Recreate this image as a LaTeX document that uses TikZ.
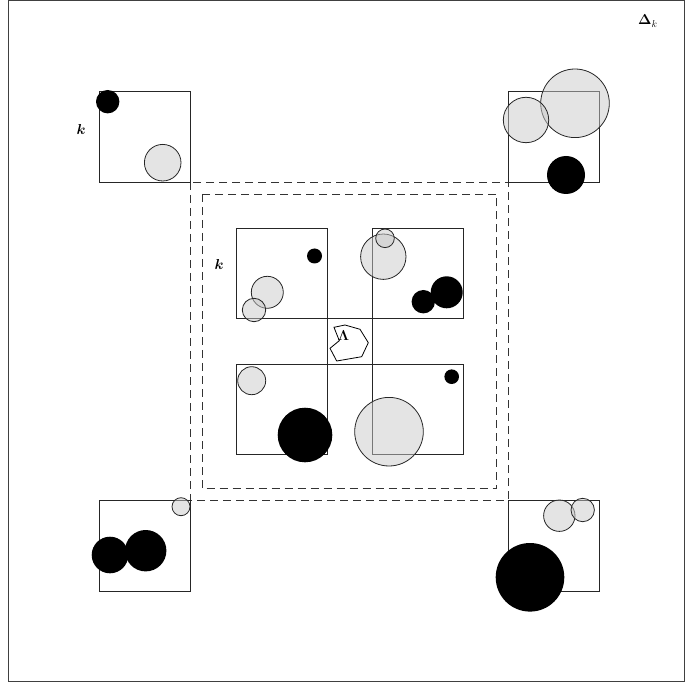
\documentclass[tikz,border=0pt]{standalone}
\usepackage{amsmath,amssymb,bm}
\begin{document}
\begin{tikzpicture}[x=1pt,y=-1pt,
  sq/.style={draw=black!85,line width=0.9pt},
  dsh/.style={draw=black!80,line width=0.9pt,dash pattern=on 8pt off 5pt},
  gc/.style={fill=black!21,fill opacity=0.5,draw=black!85,line width=0.8pt},
  bc/.style={fill=black},
  lbl/.style={inner sep=0pt,font=\fontsize{14}{16}\selectfont}]
\useasboundingbox (0,0) rectangle (685,684);
\draw[draw=black!75,line width=1.2pt] (8.5,0.8) rectangle (684.5,681.5);
% dashed
\draw[dsh] (190,182) rectangle (508,500);
\draw[dsh] (202,194) rectangle (496.5,488.5);
% corner squares
\draw[sq] (99,91.5) rectangle (190,182);
\draw[sq] (508,91.5) rectangle (599,182);
\draw[sq] (99,500) rectangle (190,591);
\draw[sq] (508,500) rectangle (599,591);
% inner squares
\draw[sq] (236,228) rectangle (327,318);
\draw[sq] (372,228) rectangle (463,318);
\draw[sq] (236,364) rectangle (327,454);
\draw[sq] (372,364) rectangle (463,454);
\draw[sq] (327,318) rectangle (372,364);
% polygon
\draw[fill=white,line width=0.8pt] (334,327.3) -- (345,325) -- (360,329.3) -- (368.3,342.7) -- (361.7,356.7) -- (336.7,361) -- (330,348.3) -- (339.3,340.7) -- cycle;
% TL circles
\fill[bc] (107.7,101.7) circle (11.7);
\draw[gc] (162.7,162.7) circle (18.3);
% TR
\draw[gc] (575,103.3) circle (34.3);
\draw[gc] (526,120) circle (22.7);
\fill[bc] (566,175) circle (19);
% BL
\draw[gc] (181,506.7) circle (9);
\fill[bc] (110,555) circle (18.3);
\fill[bc] (145.7,550.7) circle (20.7);
% BR
\draw[gc] (559.3,515.7) circle (15.7);
\draw[gc] (582.7,510) circle (11.7);
\fill[bc] (530,577.3) circle (34.3);
% inner UL
\fill[bc] (314.5,256) circle (7.5);
\draw[gc] (267.3,292.3) circle (16);
\draw[gc] (254,310) circle (11.7);
% inner UR
\draw[gc] (383.3,256.7) circle (22.7);
\draw[gc] (385,238.3) circle (9.3);
\fill[bc] (446.7,292.3) circle (16);
\fill[bc] (423.3,301.7) circle (11.7);
% inner LL
\draw[gc] (251.7,380.7) circle (14);
\fill[bc] (305,435) circle (27.3);
% inner LR
\fill[bc] (451.7,376.7) circle (7.3);
\draw[gc] (389,431.7) circle (34.3);
% labels
\node[lbl] (kA) at (81,130) {$\bm{k}$};
\node[lbl] (kB) at (219,265) {$\bm{k}$};
\node[lbl] (lam) at (343.5,336) {$\bm{\Lambda}$};
\node[lbl] (del) at (648,21) {$\bm{\Delta}_k$};
\end{tikzpicture}
\end{document}
